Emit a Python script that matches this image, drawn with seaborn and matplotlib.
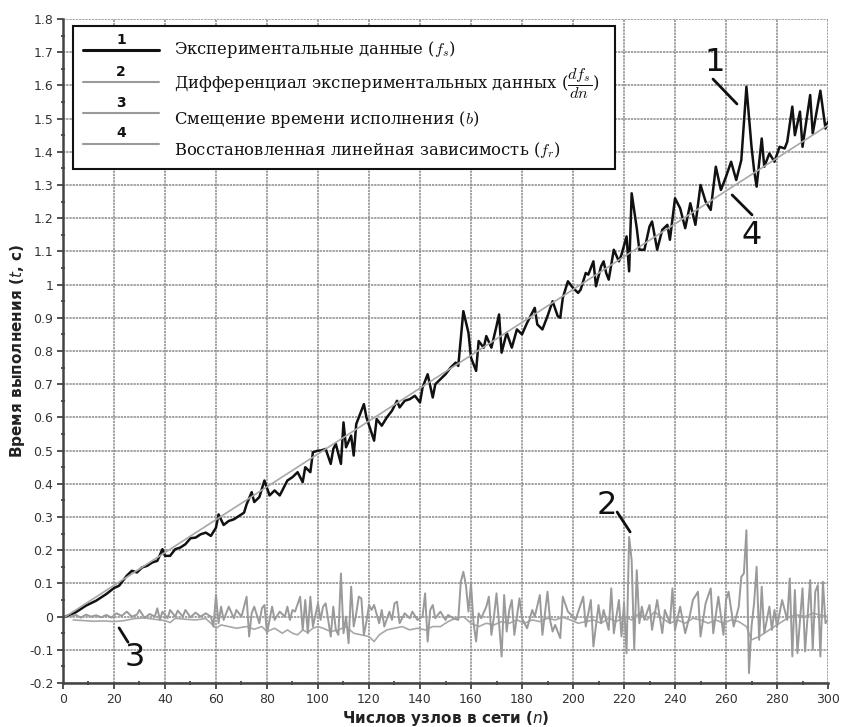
import matplotlib
matplotlib.use("Agg")
import matplotlib.pyplot as plt
from matplotlib.patches import Rectangle
from matplotlib.lines import Line2D
from matplotlib.ticker import MultipleLocator
import seaborn as sns

fs_n = [1, 5, 9, 13, 17, 20, 22, 25, 27, 29, 31, 33, 35, 37, 39, 40, 42, 44, 46, 48,
        50, 52, 54, 56, 58, 60, 61, 63, 65, 67, 69, 71, 72, 74, 75, 77, 79, 81, 83, 85,
        88, 90, 92, 94, 95, 97, 98, 100, 101, 103, 105, 106, 107, 109, 110, 111, 113, 114,
        115, 118, 119, 122, 123, 125, 127, 129, 131, 132, 134, 136, 138, 140, 141, 143,
        145, 146, 148, 150, 152, 154, 155, 157, 159, 160, 162, 163, 165, 166, 168, 170,
        171, 172, 174, 176, 178, 180, 182, 185, 186, 188, 190, 192, 194, 195, 196, 198,
        200, 202, 203, 205, 206, 208, 209, 211, 212, 213, 214, 216, 218, 219, 221, 222,
        223, 225, 226, 228, 230, 231, 233, 235, 237, 238, 240, 242, 244, 246, 248, 250,
        252, 254, 256, 258, 260, 262, 264, 266, 268, 270, 271, 272, 274, 275, 277, 279,
        281, 283, 284, 286, 287, 289, 290, 293, 294, 297, 299, 300]
fs_t = [0.0, 0.013, 0.033, 0.048, 0.068, 0.086, 0.093, 0.123, 0.138, 0.133, 0.148, 0.153,
        0.163, 0.168, 0.203, 0.183, 0.183, 0.203, 0.208, 0.218, 0.236, 0.238, 0.248, 0.253,
        0.243, 0.268, 0.308, 0.276, 0.288, 0.293, 0.303, 0.313, 0.338, 0.375, 0.345, 0.36,
        0.41, 0.365, 0.38, 0.365, 0.41, 0.42, 0.435, 0.405, 0.45, 0.435, 0.495, 0.5,
        0.5, 0.505, 0.46, 0.505, 0.52, 0.46, 0.585, 0.51, 0.545, 0.485, 0.58, 0.64, 0.6,
        0.53, 0.595, 0.575, 0.6, 0.62, 0.65, 0.63, 0.65, 0.655, 0.665, 0.645, 0.69, 0.73,
        0.66, 0.70, 0.715, 0.73, 0.75, 0.765, 0.755, 0.92, 0.855, 0.78, 0.74, 0.83, 0.81,
        0.845, 0.81, 0.875, 0.91, 0.795, 0.855, 0.81, 0.865, 0.85, 0.885, 0.93, 0.88,
        0.865, 0.905, 0.95, 0.905, 0.90, 0.96, 1.01, 0.99, 0.975, 0.985, 1.035, 1.03,
        1.07, 0.995, 1.055, 1.07, 1.035, 1.015, 1.105, 1.07, 1.09, 1.145, 1.04, 1.275,
        1.17, 1.105, 1.105, 1.175, 1.19, 1.105, 1.165, 1.18, 1.135, 1.26, 1.23, 1.17,
        1.245, 1.18, 1.30, 1.25, 1.225, 1.355, 1.285, 1.325, 1.37, 1.315, 1.375, 1.596,
        1.415, 1.345, 1.295, 1.44, 1.355, 1.395, 1.37, 1.415, 1.41, 1.43, 1.536, 1.45,
        1.521, 1.415, 1.571, 1.455, 1.584, 1.47, 1.49]

# 2: derivative of the experimental data
dfs_n = [3, 5, 7, 9, 11, 13, 15, 17, 19, 21, 23, 25, 27, 29, 30, 32, 34, 36, 37, 38,
         39, 41, 42, 44, 45, 47, 48, 50, 52, 54, 56, 58, 59, 60, 61, 62, 63, 65, 67, 68,
         70, 72, 73, 74, 75, 77, 78, 79, 80, 82, 83, 85, 87, 88, 89, 90, 91, 93, 94, 95,
         96, 97, 98, 100, 101, 102, 103, 105, 106, 107, 108, 109, 110, 111, 112, 113, 114,
         115, 116, 117, 118, 119, 120, 121, 122, 124, 125, 126, 128, 129, 130, 131, 132,
         134, 136, 137, 139, 141, 142, 143, 144, 145, 146, 148, 150, 151, 153, 155, 156,
         157, 158, 159, 160, 161, 162, 163, 164, 166, 167, 168, 169, 170, 171, 172, 173,
         174, 175, 176, 177, 179, 180, 182, 184, 185, 187, 188, 189, 190, 191, 192, 193,
         195, 196, 198, 200, 201, 204, 205, 207, 208, 210, 211, 212, 214, 215, 216, 218,
         219, 220, 221, 222, 223, 224, 225, 226, 227, 228, 230, 231, 233, 235, 236, 238,
         239, 240, 242, 244, 246, 247, 249, 250, 252, 254, 255, 257, 259, 260, 261, 263,
         265, 266, 267, 268, 269, 270, 271, 272, 273, 274, 275, 277, 278, 279, 280, 282,
         284, 285, 286, 287, 288, 290, 291, 293, 294, 295, 296, 297, 298, 299, 300]
dfs_v = [0.0, 0.005, -0.003, 0.006, 0.0, 0.004, -0.002, 0.005, -0.003, 0.01, 0.002, 0.015,
         0.0, 0.006, 0.02, -0.004, 0.008, 0.0, 0.025, -0.01, 0.015, -0.005, 0.02, 0.0,
         0.018, 0.0, 0.02, -0.002, 0.012, 0.0, 0.01, 0.0, -0.03, 0.065, -0.02, 0.03,
         -0.01, 0.03, -0.005, 0.02, 0.0, 0.06, -0.06, 0.01, 0.03, -0.02, 0.025, 0.035,
         -0.05, 0.03, -0.01, 0.015, 0.0, 0.03, -0.01, 0.02, 0.015, 0.06, -0.04, 0.05,
         -0.05, 0.06, -0.03, 0.04, -0.01, 0.03, 0.04, -0.06, 0.03, -0.04, -0.055, 0.13,
         -0.05, 0.0, -0.08, 0.09, -0.03, 0.01, 0.06, 0.055, -0.055, -0.015, 0.035, 0.02,
         0.035, -0.02, 0.02, -0.03, 0.015, -0.01, 0.04, 0.045, -0.02, 0.01, -0.005, 0.015,
         -0.01, 0.0, 0.07, -0.075, 0.02, 0.035, -0.005, 0.015, -0.01, 0.005, -0.005, -0.01,
         0.105, 0.135, 0.095, 0.015, 0.1, -0.02, -0.075, 0.01, -0.005, 0.03, 0.06, -0.055,
         0.0, 0.07, -0.02, -0.12, 0.065, -0.045, 0.02, 0.05, -0.055, 0.055, -0.005, -0.035,
         0.02, 0.0, 0.065, -0.055, 0.01, 0.075, -0.01, -0.045, -0.025, -0.065, 0.06, 0.015,
         0.0, -0.01, 0.06, -0.03, 0.05, -0.09, 0.035, -0.02, 0.02, -0.04, 0.085, -0.05,
         0.05, -0.06, 0.04, -0.11, 0.24, 0.17, -0.10, 0.14, -0.02, 0.03, -0.01, 0.035,
         -0.04, 0.05, -0.05, 0.02, -0.02, 0.085, -0.04, 0.03, -0.05, 0.01, 0.05, 0.075,
         -0.06, 0.04, 0.085, -0.05, 0.06, -0.055, 0.05, 0.075, -0.03, 0.03, 0.12, 0.13,
         0.26, -0.17, -0.03, 0.04, 0.15, -0.07, 0.09, -0.05, 0.03, -0.04, 0.02, -0.03,
         0.05, -0.01, 0.115, -0.12, 0.08, -0.11, 0.085, -0.105, 0.11, -0.10, 0.075, 0.095,
         -0.12, 0.105, -0.02, -0.01]

# 3: execution time offset b
b_n = [4, 8, 12, 16, 20, 24, 28, 32, 36, 40, 42, 44, 48, 52, 56, 58, 60, 62, 65, 68,
       72, 75, 78, 80, 83, 86, 88, 90, 92, 94, 96, 98, 100, 102, 105, 108, 111, 114, 117,
       120, 122, 124, 127, 130, 133, 136, 139, 142, 145, 148, 151, 154, 157, 160, 163,
       166, 169, 172, 175, 178, 181, 184, 187, 190, 193, 196, 199, 202, 205, 208, 211,
       214, 217, 220, 223, 226, 229, 232, 235, 238, 241, 244, 247, 250, 253, 256, 259,
       262, 265, 268, 270, 273, 276, 279, 282, 285, 288, 291, 294, 297, 300]
b_v = [-0.01, -0.012, -0.014, -0.013, -0.015, -0.012, -0.006, -0.004, -0.008, -0.012,
       -0.018, -0.005, -0.008, -0.01, -0.006, -0.02, -0.035, -0.025, -0.03, -0.035, -0.03,
       -0.038, -0.03, -0.045, -0.035, -0.05, -0.04, -0.05, -0.055, -0.04, -0.048, -0.035,
       -0.03, -0.035, -0.045, -0.04, -0.03, -0.05, -0.055, -0.06, -0.075, -0.055, -0.04,
       -0.035, -0.03, -0.04, -0.035, -0.04, -0.03, -0.03, -0.015, -0.005, 0.0, -0.02,
       -0.03, -0.02, -0.025, -0.015, -0.02, -0.01, -0.02, -0.01, -0.015, -0.005, -0.01,
       -0.002, -0.01, -0.02, -0.015, -0.01, -0.02, -0.005, -0.015, 0.0, -0.01, 0.01,
       -0.01, 0.015, -0.005, -0.02, -0.01, -0.02, -0.005, -0.01, -0.02, -0.01, -0.02,
       -0.01, -0.015, -0.03, -0.07, -0.06, -0.045, -0.03, -0.015, 0.0, 0.005, 0.0, 0.01,
       0.005, 0.0]

# 4: restored linear dependence f_r
fr_n = [1, 300]
fr_t = [0.0, 1.48]

legend_nums = ["1", "2", "3", "4"]
legend_texts = [
    r"Экспериментальные данные ($f_s$)",
    r"Дифференциал экспериментальных данных ($\dfrac{d f_s}{dn}$)",
    r"Смещение времени исполнения ($b$)",
    r"Восстановленная линейная зависимость ($f_r$)",
]
x_ticks = list(range(0, 301, 20))
y_ticks = [round(-0.2 + 0.1 * i, 1) for i in range(21)]

sns.set_theme(style="white")
plt.rcParams["font.family"] = ["DejaVu Sans"]

fig = plt.figure(figsize=(8.42, 7.27), dpi=100)
ax = fig.add_axes([0.0748, 0.0605, 0.9086, 0.9134])

sns.lineplot(x=fs_n, y=fs_t, ax=ax, color="#111111", linewidth=1.8)
sns.lineplot(x=b_n, y=b_v, ax=ax, color="#a8a8a8", linewidth=1.2)
sns.lineplot(x=dfs_n, y=dfs_v, ax=ax, color="#9a9a9a", linewidth=1.4)
sns.lineplot(x=fr_n, y=fr_t, ax=ax, color="#a8a8a8", linewidth=1.2)

ax.set_xlim(0, 300)
ax.set_ylim(-0.2, 1.8)
ax.set_xticks(x_ticks)
ax.set_yticks(y_ticks)
ax.set_yticklabels([f"{v:g}" for v in y_ticks])
ax.xaxis.set_minor_locator(MultipleLocator(10))
ax.yaxis.set_minor_locator(MultipleLocator(0.05))
ax.tick_params(which="major", direction="out", length=4, width=1.3, color="#444444",
               labelsize=9, labelcolor="#333333", pad=3, left=True, bottom=True)
ax.tick_params(which="minor", direction="inout", length=3, width=1.3, color="#444444",
               left=True, bottom=True)
ax.grid(True, which="major", color="#8a8a8a", linestyle=(0, (1.5, 0.6)), linewidth=1.1)
ax.set_axisbelow(True)
for side in ["top", "right"]:
    ax.spines[side].set_visible(False)
for side in ["left", "bottom"]:
    ax.spines[side].set_color("#444444")
    ax.spines[side].set_linewidth(1.8)

ax.set_xlabel(r"Числов узлов в сети ($n$)", fontsize=11, fontweight="bold",
              color="#222222", math_fontfamily="dejavusans", labelpad=2)
ax.set_ylabel(r"Время выполнения ($t$, с)", fontsize=11, fontweight="bold",
              color="#222222", math_fontfamily="dejavusans", labelpad=1)

# legend box drawn in axes coordinates
tr = ax.transAxes
ax.add_patch(Rectangle((0.0131, 0.7741), 0.7085, 0.2154, transform=tr,
                       facecolor="white", edgecolor="#111111", linewidth=1.5, zorder=5))
line_y = [0.9533, 0.9051, 0.8584, 0.8117]
num_y = [0.9684, 0.9202, 0.8735, 0.8283]
text_y = [0.9533, 0.9021, 0.8479, 0.8027]
styles = [("#111111", 2.2), ("#9a9a9a", 1.5), ("#9a9a9a", 1.5), ("#9a9a9a", 1.5)]
for i in range(4):
    ax.add_line(Line2D([0.0261, 0.1255], [line_y[i], line_y[i]], transform=tr,
                       color=styles[i][0], linewidth=styles[i][1], zorder=6))
    ax.text(0.0758, num_y[i], legend_nums[i], transform=tr, ha="center", va="center",
            fontsize=10, fontweight="bold", color="#111111", zorder=6)
    ax.text(0.1451, text_y[i], legend_texts[i], transform=tr, ha="left", va="center",
            fontsize=11.8, family="DejaVu Serif", math_fontfamily="cm",
            color="#111111", zorder=6)

# curve annotations
notes = [("1", (255.7, 1.67), (254.9, 1.619), (264.3, 1.544)),
         ("4", (270.2, 1.149), (262.4, 1.27), (270.2, 1.21)),
         ("2", (213.3, 0.336), (217.3, 0.315), (222.4, 0.255)),
         ("3", (28.2, -0.122), (22.0, -0.034), (25.5, -0.077))]
for label, pos, start, end in notes:
    ax.annotate("", xy=end, xytext=start,
                arrowprops=dict(arrowstyle="-", color="#111111", lw=2,
                                shrinkA=0, shrinkB=0))
    ax.text(pos[0], pos[1], label, ha="center", va="center", fontsize=23,
            color="#111111")

fig.savefig("out.png", dpi=100)
